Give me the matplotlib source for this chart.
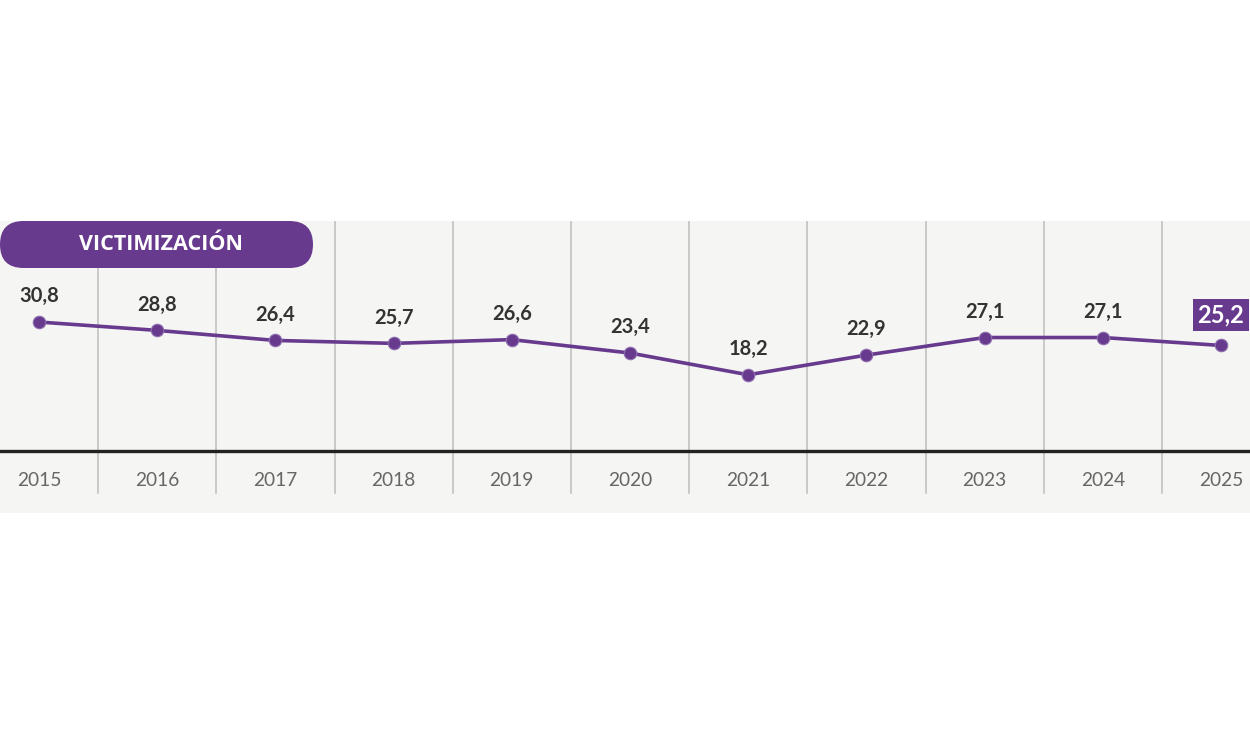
import matplotlib
matplotlib.use("Agg")
import matplotlib.pyplot as plt
from matplotlib.patches import FancyBboxPatch

years = ["2015", "2016", "2017", "2018", "2019", "2020", "2021", "2022", "2023", "2024", "2025"]
values = [30.8, 28.8, 26.4, 25.7, 26.6, 23.4, 18.2, 22.9, 27.1, 27.1, 25.2]
labels = ["30,8", "28,8", "26,4", "25,7", "26,6", "23,4", "18,2", "22,9", "27,1", "27,1", "25,2"]
title = "VICTIMIZACIÓN"

PURPLE = "#673a8e"
BG = "#f5f5f3"

fig = plt.figure(figsize=(12.5, 7.35), dpi=100)
fig.patch.set_facecolor("white")
ax = fig.add_axes([0, (735 - 513) / 735, 1, 292 / 735])
ax.set_facecolor(BG)
for s in ax.spines.values():
    s.set_visible(False)
ax.set_xticks([])
ax.set_yticks([])

n = len(years)
xs = list(range(n))
ax.set_xlim(-39 / 118.2, (n - 1) + 29 / 118.2)
ax.set_ylim(-14.8, 54.92)

# separators
for i in range(n - 1):
    ax.axvline(i + 0.5, ymin=0.068, ymax=1, color="#bdbdbd", lw=1.1, zorder=1)
# baseline
ax.axhline(0, color="#222222", lw=2.4, zorder=2)

ax.plot(xs, values, color=PURPLE, lw=2.6, marker="o", markersize=9,
        markerfacecolor=PURPLE, markeredgecolor="#8f6fb0", markeredgewidth=0.8,
        zorder=4, solid_capstyle="round")

for i, (v, lab) in enumerate(zip(values, labels)):
    if i == n - 1:
        ax.annotate(lab, (i, v), xytext=(0, 22), textcoords="offset points",
                    ha="center", va="center", fontsize=17, fontweight="bold",
                    family="Lato", color="white", zorder=6,
                    bbox=dict(boxstyle="square,pad=0.2", fc=PURPLE, ec="none"))
    else:
        ax.annotate(lab, (i, v), xytext=(0, 18.5), textcoords="offset points",
                    ha="center", va="center", fontsize=14.5, fontweight="bold",
                    family="Lato", color="#333333", zorder=5)
    ax.text(i, 0.11, years[i], transform=ax.get_xaxis_transform(),
            ha="center", va="center", fontsize=13.8, family="Lato", color="#666666")

# title pill
pill = FancyBboxPatch((0.0, 4.67), 3.13, 0.47,
                      boxstyle="round,pad=0,rounding_size=0.235",
                      transform=fig.dpi_scale_trans, fc=PURPLE, ec="none", zorder=10)
fig.patches.append(pill)
fig.text(161 / 1250, 1 - 245 / 735, title, ha="center", va="center",
         fontsize=15.5, fontweight="bold", family="Open Sans", color="white", zorder=11)

fig.savefig("out.png", dpi=100, facecolor="white")
